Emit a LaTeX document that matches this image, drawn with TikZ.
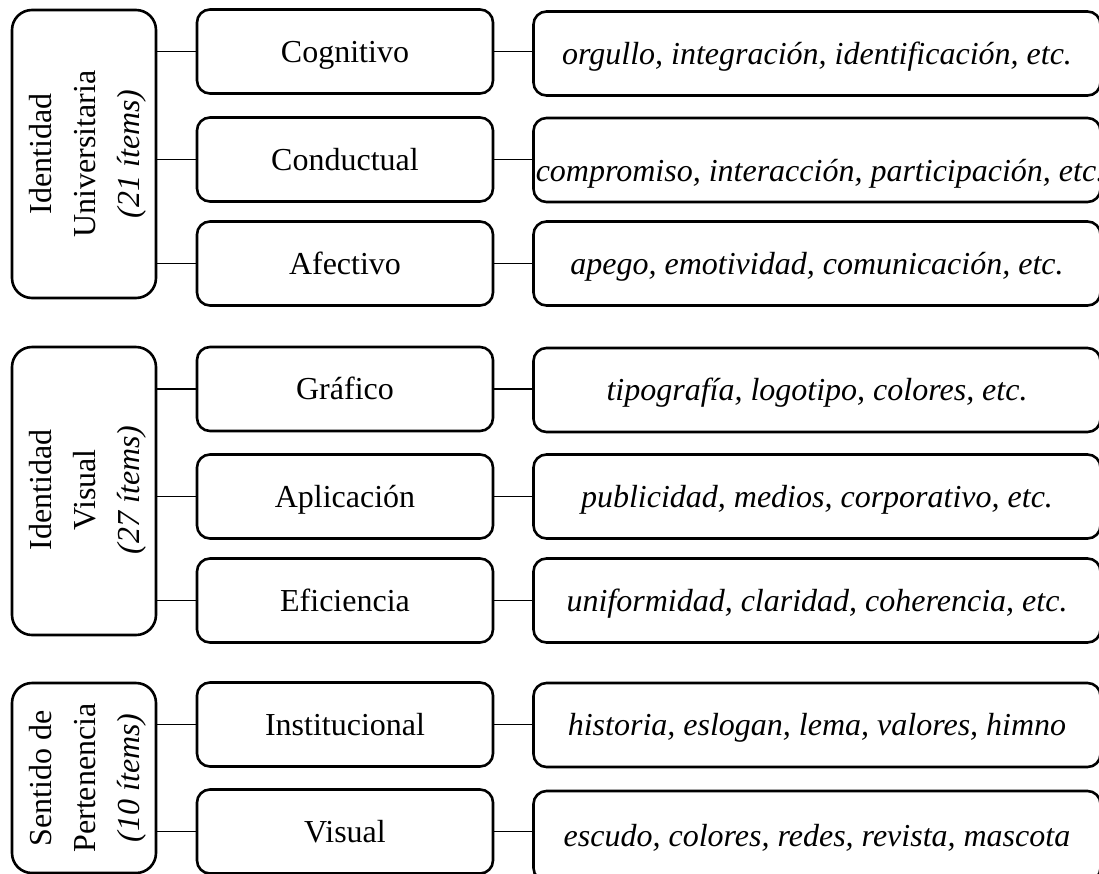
\documentclass[tikz,border=0pt]{standalone}
\usepackage{fontspec}
\setmainfont{Liberation Serif}
\begin{document}
\begin{tikzpicture}[x=1pt,y=-1pt,
  box/.style={draw, line width=2.6pt, rounded corners=13pt, inner sep=0pt, text height=21pt, text depth=0pt, font=\fontsize{32}{38}\selectfont},
  leftbox/.style={box, rounded corners=20pt, minimum width=144pt},
  lefttext/.style={rotate=90, align=center, inner sep=0pt, font=\fontsize{32}{44}\selectfont},
  midbox/.style={box, minimum width=296pt, minimum height=84pt},
  rightbox/.style={box, minimum width=567pt, minimum height=84pt, font=\fontsize{32}{38}\selectfont\itshape},
  link/.style={line width=1.5pt}]
\useasboundingbox (0,0) rectangle (1099,873);
\clip (0,0) rectangle (1099,873);
\fill[white] (0,0) rectangle (1099,873);

% Group 1
\node[leftbox, minimum height=288pt] (L1) at (84,154) {};
\node[lefttext] (L1t) at (88,154) {Identidad\\Universitaria\\\textit{(21 ítems)}};
\node[midbox] (M1) at (345,51.5) {Cognitivo};
\node[midbox] (M2) at (345,159.5) {Conductual};
\node[midbox] (M3) at (345,263.5) {Afectivo};
\node[rightbox] (R1) at (817,53.5) {\makebox[0pt]{orgullo, integración, identificación, etc.}};
\node[rightbox] (R2) at (817,160) {\makebox[0pt]{\hspace*{6pt}\raisebox{-11pt}{compromiso, interacción, participación, etc.}}};
\node[rightbox] (R3) at (817,263.5) {\makebox[0pt]{apego, emotividad, comunicación, etc.}};

% Group 2
\node[leftbox, minimum height=288pt] (L2) at (84,491) {};
\node[lefttext] (L2t) at (88,490) {Identidad\\Visual\\\textit{(27 ítems)}};
\node[midbox] (M4) at (345,389) {Gráfico};
\node[midbox] (M5) at (345,496.5) {Aplicación};
\node[midbox] (M6) at (345,600.5) {Eficiencia};
\node[rightbox] (R4) at (817,390) {\makebox[0pt]{tipografía, logotipo, colores, etc.}};
\node[rightbox] (R5) at (817,496.5) {\makebox[0pt]{publicidad, medios, corporativo, etc.}};
\node[rightbox] (R6) at (817,600.5) {\makebox[0pt]{uniformidad, claridad, coherencia, etc.}};

% Group 3
\node[leftbox, minimum height=190pt] (L3) at (84,778) {};
\node[lefttext] (L3t) at (88,778) {Sentido de\\Pertenencia\\\textit{(10 ítems)}};
\node[midbox] (M7) at (345,724.5) {Institucional};
\node[midbox] (M8) at (345,831.5) {Visual};
\node[rightbox] (R7) at (817,725) {\makebox[0pt]{historia, eslogan, lema, valores, himno}};
\node[rightbox, minimum height=90pt] (R8) at (817,836) {\makebox[0pt]{escudo, colores, redes, revista, mascota}};

% connectors
\foreach \l/\m/\r in {L1/M1/R1, L1/M2/R2, L1/M3/R3, L2/M4/R4, L2/M5/R5, L2/M6/R6, L3/M7/R7, L3/M8/R8} {
  \draw[link] (\l.east |- \m.west) -- (\m.west);
  \draw[link] (\m.east) -- (\r.west |- \m.east);
}
\end{tikzpicture}
\end{document}
